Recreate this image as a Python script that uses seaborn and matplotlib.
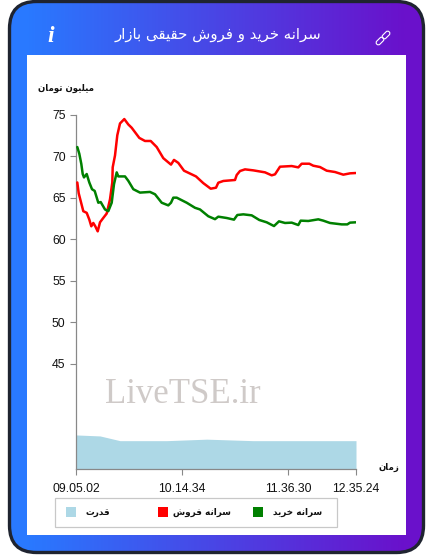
import numpy as np
import pandas as pd
import matplotlib
matplotlib.use("Agg")
import matplotlib.pyplot as plt
from matplotlib.patches import FancyBboxPatch, Rectangle
from matplotlib.colors import LinearSegmentedColormap
from matplotlib.transforms import Affine2D
import seaborn as sns

# ---------------- data ----------------
red_x = [1.3, 2.7, 4.7, 7.3, 10.7, 13.3, 15.3, 17.3, 19.3, 21.7, 24, 27.3, 30.7, 34, 36.3, 36.7, 39, 41.3, 44,
         48.3, 52.3, 55.7, 63.3, 69, 74.7, 80.7, 87.3, 95, 98, 102.3, 108, 120, 127.3, 134.7, 140, 142.3, 147.3,
         159, 160.7, 164, 169, 177.3, 189, 195.7, 199, 204, 215.7, 222.3, 225.7, 233.3, 237.3, 244, 250.7, 259,
         267.3, 274, 279.7]
red_y = [66.87, 65.57, 64.63, 63.41, 63.21, 62.40, 61.59, 61.99, 61.59, 60.98, 62.07, 62.60, 63.13, 64.84, 66.87,
         68.70, 70.12, 72.56, 73.98, 74.51, 73.86, 73.46, 72.24, 71.87, 71.87, 71.14, 69.80, 69.02, 69.59, 69.23,
         68.29, 67.60, 66.79, 66.12, 66.24, 66.84, 67.05, 67.17, 67.77, 68.25, 68.45, 68.33, 68.09, 67.73, 67.85,
         68.77, 68.85, 68.69, 69.13, 69.13, 68.89, 68.73, 68.29, 68.13, 67.81, 67.97, 68.01]

green_x = [1.3, 3.3, 5.3, 6.7, 8, 10.7, 13.3, 16, 18.7, 22.3, 24.7, 29, 32.3, 35.7, 38, 40.7, 42.3, 49, 52.3, 57.3,
           64, 74, 79, 85.7, 92.3, 95, 97.3, 100.7, 110.7, 119, 124, 132.3, 139, 142.3, 150.7, 158, 161.3, 167.3,
           175.7, 183.3, 190.7, 198, 203, 209, 215.7, 222.3, 224.7, 232.3, 242.3, 247.3, 254, 265.7, 271.3, 274,
           279.7]
green_y = [71.14, 70.33, 69.11, 67.89, 67.48, 67.89, 66.87, 66.06, 65.85, 64.43, 64.51, 63.62, 63.41, 64.43, 66.67,
           68.09, 67.60, 67.60, 67.07, 66.06, 65.65, 65.73, 65.45, 64.43, 64.11, 64.43, 65.04, 65.04, 64.43, 63.82,
           63.62, 62.80, 62.45, 62.75, 62.59, 62.39, 62.95, 63.03, 62.91, 62.35, 62.07, 61.62, 62.19, 61.99, 62.03,
           61.74, 62.27, 62.23, 62.43, 62.27, 61.99, 61.82, 61.82, 62.03, 62.07]

power_x = [0, 24, 44, 90.7, 130.7, 177, 280]
power_y = [36.45, 36.33, 35.76, 35.76, 35.94, 35.76, 35.76]

y_ticks = [45, 50, 55, 60, 65, 70, 75]
x_ticks = [0, 106, 212, 280]
x_tick_labels = ["09.05.02", "10.14.34", "11.36.30", "12.35.24"]

title_text = "سرانه خرید و فروش حقیقی بازار"
y_unit_text = "میلیون تومان"
x_unit_text = "زمان"
buy_text = "سرانه خرید"
sell_text = "سرانه فروش"
power_text = "قدرت"

# matplotlib has no arabic shaping, so pick the joined forms and reverse by hand
FORMS = {
    "ا": (0xFE8D, 0xFE8E), "د": (0xFEA9, 0xFEAA), "ر": (0xFEAD, 0xFEAE), "ز": (0xFEAF, 0xFEB0), "و": (0xFEED, 0xFEEE),
    "ب": (0xFE8F, 0xFE90, 0xFE91, 0xFE92), "ت": (0xFE95, 0xFE96, 0xFE97, 0xFE98), "ح": (0xFEA1, 0xFEA2, 0xFEA3, 0xFEA4),
    "خ": (0xFEA5, 0xFEA6, 0xFEA7, 0xFEA8), "س": (0xFEB1, 0xFEB2, 0xFEB3, 0xFEB4), "ش": (0xFEB5, 0xFEB6, 0xFEB7, 0xFEB8),
    "ف": (0xFED1, 0xFED2, 0xFED3, 0xFED4), "ق": (0xFED5, 0xFED6, 0xFED7, 0xFED8), "ل": (0xFEDD, 0xFEDE, 0xFEDF, 0xFEE0),
    "م": (0xFEE1, 0xFEE2, 0xFEE3, 0xFEE4), "ن": (0xFEE5, 0xFEE6, 0xFEE7, 0xFEE8), "ه": (0xFEE9, 0xFEEA, 0xFEEB, 0xFEEC),
    "ی": (0xFBFC, 0xFBFD, 0xFBFE, 0xFBFF),
}


def shape(text):
    out = []
    for i, c in enumerate(text):
        if c not in FORMS:
            out.append(c)
            continue
        before = i > 0 and text[i - 1] in FORMS and len(FORMS[text[i - 1]]) == 4
        after = i + 1 < len(text) and text[i + 1] in FORMS and len(FORMS[c]) == 4
        form = FORMS[c]
        if before and after:
            out.append(chr(form[3]))
        elif before:
            out.append(chr(form[1]))
        elif after:
            out.append(chr(form[2]))
        else:
            out.append(chr(form[0]))
    return "".join(reversed(out))


sns.set_style("white")
plt.rcParams["font.family"] = ["Liberation Sans", "DejaVu Sans"]

fig = plt.figure(figsize=(4.33, 5.59), dpi=100, facecolor="white")

# ---------------- card background, in pixel coordinates ----------------
bg = fig.add_axes([0, 0, 1, 1], zorder=0)
bg.set_xlim(0, 433)
bg.set_ylim(559, 0)
bg.axis("off")

cmap = LinearSegmentedColormap.from_list("card", ["#2979ff", "#6a11cb"])
card = FancyBboxPatch((9.5, 1.5), 414, 551, boxstyle="round,pad=0,rounding_size=27", facecolor="none",
                      edgecolor="#1f2430", linewidth=2.4, zorder=3)
bg.add_patch(card)
grad = bg.imshow(np.linspace(0, 1, 300).reshape(1, -1), extent=(27, 406, 559, 0), cmap=cmap, aspect="auto", zorder=1)
grad2 = bg.imshow(np.array([[0, 1]]), extent=(9, 27, 559, 0), cmap=LinearSegmentedColormap.from_list("l", ["#2979ff", "#2979ff"]),
                  aspect="auto", zorder=1)
grad3 = bg.imshow(np.array([[0, 1]]), extent=(406, 424, 559, 0), cmap=LinearSegmentedColormap.from_list("r", ["#6a11cb", "#6a11cb"]),
                  aspect="auto", zorder=1)
for g in (grad, grad2, grad3):
    g.set_clip_path(card)
bg.set_xlim(0, 433)
bg.set_ylim(559, 0)
bg.add_patch(Rectangle((27, 55), 379, 480, facecolor="white", edgecolor="none", zorder=2))

bg.text(217.5, 35, shape(title_text), color="white", fontsize=10.7, ha="center", va="center", family="DejaVu Sans", zorder=4)
bg.text(51, 37, "i", color="white", fontsize=17, ha="center", va="center", family="Liberation Serif", style="italic",
        weight="bold", zorder=4)

# link icon, two capsules at 45 degrees
for cx, cy in [(380, 41), (386, 35)]:
    rot = Affine2D().rotate_deg_around(cx, cy, -45) + bg.transData
    bg.add_patch(FancyBboxPatch((cx - 4.5, cy - 2.2), 9, 4.4, boxstyle="round,pad=0,rounding_size=2.2", facecolor="none",
                                edgecolor="white", linewidth=0.8, transform=rot, zorder=4))

# legend box
bg.add_patch(Rectangle((54.5, 497.5), 282, 29, facecolor="white", edgecolor="#c8c8c8", linewidth=0.9, zorder=3))
for x0, colour in [(253, "green"), (158, "red"), (66, "lightblue")]:
    bg.add_patch(Rectangle((x0, 507), 10, 10, facecolor=colour, edgecolor="none", zorder=4))
for x0, txt in [(322, buy_text), (231, sell_text), (110, power_text)]:
    bg.text(x0, 512.5, shape(txt), ha="right", va="center", fontsize=6.4, weight="bold", family="DejaVu Sans",
            color="#111111", zorder=4)

bg.text(94, 88.5, shape(y_unit_text), ha="right", va="center", fontsize=6.2, weight="bold", family="DejaVu Sans",
        color="#111111", zorder=4)
bg.text(399, 467, shape(x_unit_text), ha="right", va="center", fontsize=6.2, weight="bold", family="DejaVu Sans",
        color="#111111", zorder=4)

# ---------------- chart ----------------
ax = fig.add_axes([76 / 433, 1 - 469.3 / 559, 280 / 433, 354.3 / 559], zorder=5)
ax.patch.set_alpha(0)

ax.text(0.38, 0.212, "LiveTSE.ir", transform=ax.transAxes, ha="center", va="center", family="Liberation Serif",
        fontsize=25, color="#cfcac8", zorder=1)

ax.fill_between(power_x, power_y, 32.31, color="lightblue", linewidth=0, zorder=2)
sns.lineplot(data=pd.DataFrame({"x": red_x, "y": red_y}), x="x", y="y", color="red", linewidth=1.8, ax=ax, zorder=3)
sns.lineplot(data=pd.DataFrame({"x": green_x, "y": green_y}), x="x", y="y", color="green", linewidth=1.8, ax=ax, zorder=4)

ax.set_xlim(0, 280)
ax.set_ylim(32.31, 75)
ax.set_xlabel("")
ax.set_ylabel("")
ax.set_xticks(x_ticks)
ax.set_xticklabels(x_tick_labels)
ax.set_yticks(y_ticks)
ax.tick_params(axis="both", length=4.5, width=0.8, color="#888888", labelsize=8.8, labelcolor="#111111", bottom=True, left=True)
ax.tick_params(axis="x", pad=5.5)
ax.tick_params(axis="y", pad=3)
for side in ["top", "right"]:
    ax.spines[side].set_visible(False)
for side in ["left", "bottom"]:
    ax.spines[side].set_color("#888888")
    ax.spines[side].set_linewidth(0.9)

fig.savefig("out.png", dpi=100)
